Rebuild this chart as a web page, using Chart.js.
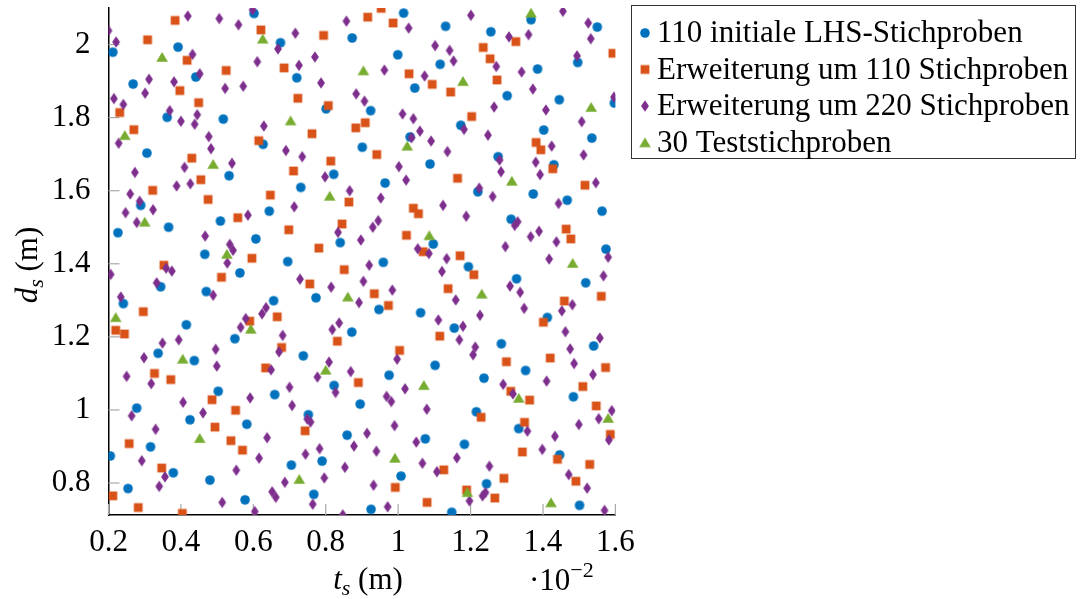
<!DOCTYPE html>
<html>
<head>
<meta charset="utf-8">
<script src="https://cdn.jsdelivr.net/npm/chart.js@4/dist/chart.umd.min.js"></script>
<style>
  html, body { margin: 0; padding: 0; background: #fff; }
  #wrap { width: 1083px; height: 599px; position: relative; }
</style>
</head>
<body>
<div id="wrap"><canvas id="c" width="1083" height="599"></canvas></div>
<script>
// Sample points (t_s in units of 1e-2 m, d_s in m)
const lhsPoints = [
  [0.602,2.085],[0.212,1.979],[0.392,1.993],[0.441,1.911],[0.268,1.892],[0.362,1.801],[0.517,1.796],
  [1.015,2.086],[0.675,2.005],[0.873,2.018],[0.999,1.972],[1.116,1.946],[0.720,1.909],[1.046,1.881],[0.801,1.824],[0.924,1.819],
  [1.131,2.050],[1.256,2.035],[1.367,2.068],[1.550,2.048],[1.496,1.951],[1.385,1.933],[1.301,1.860],[1.445,1.849],[1.597,1.840],[1.173,1.779],[1.402,1.766],
  [0.627,1.727],[0.306,1.703],[0.533,1.641],[0.289,1.560],[0.644,1.544],[0.226,1.485],[0.366,1.500],[0.509,1.517],[0.607,1.468],[0.466,1.426],
  [1.033,1.747],[0.901,1.719],[1.088,1.673],[0.822,1.645],[0.964,1.621],[0.731,1.609],[0.840,1.458],[1.097,1.454],
  [1.535,1.744],[1.276,1.693],[1.430,1.671],[1.220,1.597],[1.373,1.591],[1.467,1.574],[1.563,1.544],[1.312,1.522],[1.574,1.440],
  [0.563,1.375],[0.344,1.337],[0.470,1.324],[0.241,1.291],[0.656,1.299],[0.415,1.233],[0.549,1.195],[0.337,1.155],[0.437,1.135],
  [0.695,1.406],[0.959,1.404],[0.773,1.307],[0.947,1.275],[1.062,1.266],[0.872,1.213],[0.738,1.148],[1.102,1.122],[0.975,1.095],[0.823,1.067],
  [1.194,1.392],[1.327,1.359],[1.518,1.348],[1.412,1.253],[1.155,1.224],[1.285,1.181],[1.540,1.175],[1.352,1.108],[1.237,1.087],
  [0.503,1.051],[0.659,1.042],[0.278,1.005],[0.425,0.973],[0.582,0.961],[0.316,0.899],[0.205,0.874],[0.379,0.828],[0.480,0.808],[0.254,0.785],[0.577,0.754],
  [0.895,1.016],[0.752,0.987],[0.859,0.931],[1.075,0.921],[0.790,0.860],[0.705,0.849],[1.008,0.819],[0.767,0.769],[0.925,0.728],
  [1.484,1.036],[1.216,0.995],[1.333,0.949],[1.183,0.906],[1.446,0.877],[1.244,0.798],[1.501,0.739],[1.148,0.720]
];

const ext110Points = [
  [0.384,2.066],[0.621,2.040],[0.308,2.013],[0.417,1.957],[0.525,1.929],[0.397,1.874],[0.449,1.841],[0.231,1.814],[0.270,1.767],
  [0.953,2.099],[0.916,2.075],[0.986,2.059],[0.794,2.025],[0.685,1.936],[1.030,1.920],[1.094,1.891],[0.723,1.853],[0.807,1.833],[0.909,1.786],[0.883,1.772],
  [1.235,1.992],[1.325,2.008],[1.254,1.961],[1.593,1.976],[1.273,1.903],[1.145,1.870],[1.203,1.803],
  [0.615,1.737],[0.430,1.689],[0.455,1.630],[0.322,1.601],[0.647,1.588],[0.475,1.576],[0.557,1.526],[0.596,1.415],
  [0.762,1.756],[0.941,1.699],[0.814,1.681],[0.711,1.654],[0.864,1.569],[1.042,1.552],[1.056,1.537],[0.845,1.509],[0.698,1.493],[1.023,1.478],[0.781,1.443],[1.069,1.433],
  [1.381,1.732],[1.394,1.712],[1.427,1.660],[1.164,1.634],[1.516,1.615],[1.464,1.495],[1.477,1.468],[1.171,1.422],
  [0.353,1.396],[0.512,1.363],[0.296,1.269],[0.220,1.218],[0.244,1.208],[0.590,1.243],[0.634,1.115],[0.327,1.100],[0.372,1.083],
  [0.851,1.384],[0.756,1.345],[0.934,1.318],[0.973,1.286],[0.666,1.255],[0.832,1.188],[1.115,1.202],[0.678,1.171],[1.004,1.163],[0.890,1.075],
  [1.209,1.370],[1.138,1.332],[1.561,1.311],[1.459,1.298],[1.401,1.240],[1.299,1.132],[1.420,1.142],[1.573,1.116],[1.510,1.064],
  [0.486,1.028],[0.551,0.999],[0.494,0.953],[0.538,0.916],[0.570,0.890],[0.257,0.908],[0.347,0.841],[0.212,0.765],[0.282,0.733],[0.404,0.717],
  [0.743,0.943],[1.126,0.836],[0.992,0.788],[1.080,0.747],
  [1.311,1.051],[1.363,1.027],[1.547,1.011],[1.229,0.980],[1.349,0.966],[1.586,0.933],[1.343,0.885],[1.440,0.865],[1.529,0.851],[1.292,0.813],[1.491,0.805],[1.189,0.781],[1.267,0.759]
];

const ext220Points = [
  [0.419,2.078],[0.506,2.071],[0.559,2.054],[0.598,2.095],[0.200,2.038],[0.221,2.007],[0.432,1.973],[0.611,1.953],[0.452,1.920],[0.312,1.905],[0.381,1.898],[0.301,1.867],[0.522,1.880],[0.572,1.886],[0.215,1.852],[0.241,1.836],[0.369,1.819],[0.445,1.808],[0.400,1.790],[0.438,1.782],[0.629,1.777],
  [0.857,2.064],[0.716,2.031],[1.029,2.045],[0.668,1.988],[0.770,1.966],[0.726,1.943],[1.102,1.997],[0.962,1.930],[1.073,1.914],[0.787,1.895],[0.884,1.865],[0.907,1.845],[1.012,1.810],[1.042,1.797],[1.060,1.763],
  [1.201,2.080],[1.455,2.091],[1.525,2.059],[1.306,2.021],[1.360,2.027],[1.532,2.016],[1.142,1.984],[1.153,1.955],[1.271,1.940],[1.494,1.969],[1.341,1.925],[1.372,1.878],[1.265,1.829],[1.408,1.821],[1.596,1.856],[1.507,1.789],[1.182,1.768],
  [0.477,1.748],[0.228,1.730],[0.483,1.715],[0.541,1.675],[0.410,1.664],[0.273,1.650],[0.388,1.613],[0.426,1.619],[0.260,1.591],[0.286,1.571],[0.323,1.548],[0.247,1.540],[0.278,1.513],[0.585,1.533],[0.467,1.476],[0.535,1.453],[0.544,1.437],
  [1.037,1.745],[1.091,1.736],[0.690,1.710],[0.735,1.693],[1.002,1.666],[0.798,1.638],[1.022,1.629],[0.866,1.600],[0.952,1.580],[0.713,1.556],[1.124,1.560],[0.945,1.518],[0.930,1.500],[0.834,1.486],[0.897,1.465],[1.054,1.441],[1.085,1.428],
  [1.248,1.752],[1.136,1.707],[1.424,1.722],[1.280,1.684],[1.380,1.678],[1.512,1.698],[1.284,1.652],[1.392,1.644],[1.546,1.622],[1.224,1.607],[1.261,1.584],[1.443,1.565],[1.188,1.530],[1.330,1.515],[1.322,1.505],[1.389,1.489],[1.366,1.474],[1.437,1.460],[1.296,1.447],[1.134,1.414],[1.417,1.413],[1.580,1.418],
  [0.528,1.402],[0.206,1.371],[0.359,1.388],[0.375,1.380],[0.333,1.348],[0.489,1.314],[0.234,1.309],[0.635,1.280],[0.624,1.263],[0.579,1.250],[0.565,1.226],[0.349,1.183],[0.394,1.192],[0.496,1.166],[0.298,1.143],[0.499,1.120],[0.250,1.092],[0.318,1.072],[0.649,1.110],
  [0.920,1.396],[1.121,1.379],[0.729,1.358],[0.815,1.336],[0.904,1.352],[0.984,1.328],[0.892,1.294],[1.111,1.246],[0.837,1.238],[0.818,1.220],[0.681,1.204],[0.671,1.159],[0.997,1.139],[0.809,1.131],[0.869,1.105],[0.777,1.090],[0.700,1.062],[1.019,1.058],
  [1.567,1.367],[1.309,1.339],[1.337,1.322],[1.159,1.301],[1.481,1.288],[1.452,1.271],[1.348,1.278],[1.226,1.259],[1.179,1.229],[1.462,1.214],[1.557,1.197],[1.169,1.192],[1.475,1.167],[1.213,1.172],[1.207,1.151],[1.486,1.127],[1.538,1.097],[1.410,1.079],[1.290,1.070],
  [0.406,1.021],[0.591,1.033],[0.264,0.984],[0.461,0.992],[0.330,0.947],[0.638,0.924],[0.292,0.861],[0.616,0.868],[0.553,0.835],[0.356,0.817],[0.340,0.791],[0.514,0.747],[0.652,0.776],[0.662,0.761],[0.604,0.722],
  [0.827,1.048],[0.968,1.037],[0.981,1.023],[0.707,1.012],[1.079,1.002],[0.749,0.975],[0.758,0.967],[0.990,0.957],[0.914,0.936],[1.050,0.912],[0.878,0.901],[0.783,0.894],[0.940,0.887],[0.744,0.879],[1.067,0.854],[0.853,0.843],[1.107,0.831],[0.796,0.814],[0.687,0.802],[0.932,0.794],[0.764,0.742],[0.971,0.735],[0.847,0.713],
  [1.317,1.044],[1.590,0.998],[1.554,0.976],[1.499,0.960],[1.357,0.942],[1.433,0.928],[1.582,0.918],[1.398,0.892],[1.162,0.869],[1.252,0.846],[1.471,0.823],[1.522,0.786],[1.241,0.774],[1.233,0.765],[1.197,0.751],[1.570,0.725]
];

const testPoints = [
  [0.626,2.016],[0.348,1.966],[0.904,1.929],[0.703,1.792],[1.367,2.087],[1.179,1.900],[1.533,1.829],
  [0.245,1.752],[0.489,1.673],[0.300,1.515],[0.527,1.427],[1.025,1.723],[0.811,1.586],[1.086,1.478],[1.314,1.627],
  [0.220,1.254],[0.593,1.222],[0.405,1.140],[0.861,1.310],[0.800,1.110],[1.071,1.068],[1.482,1.402],[1.231,1.318],
  [0.452,0.923],[0.991,0.869],[0.727,0.811],[1.333,1.033],[1.580,0.978],[1.191,0.775],[1.422,0.747]
];

const seriesLabels = [
  '110 initiale LHS-Stichproben',
  'Erweiterung um 110 Stichproben',
  'Erweiterung um 220 Stichproben',
  '30 Teststichproben'
];
const seriesColors = ['#0072BD', '#D95319', '#7E2F8E', '#77AC30'];
const seriesMarkers = ['circle', 'square', 'diamond', 'triangle'];

const xTickValues = [0.2, 0.4, 0.6, 0.8, 1.0, 1.2, 1.4, 1.6];
const xTickLabels = ['0.2', '0.4', '0.6', '0.8', '1', '1.2', '1.4', '1.6'];
const yTickValues = [0.8, 1.0, 1.2, 1.4, 1.6, 1.8, 2.0];
const yTickLabels = ['0.8', '1', '1.2', '1.4', '1.6', '1.8', '2'];

const FONT = '"Liberation Serif", "DejaVu Serif", serif';
const FS = 31;

// Small bitmap markers used as point styles
function makeMarker(kind, color) {
  const c = document.createElement('canvas');
  c.width = 14; c.height = 14;
  const g = c.getContext('2d');
  const m = 7;
  g.fillStyle = color;
  g.beginPath();
  if (kind === 'circle') {
    g.arc(m, m, 4.8, 0, Math.PI * 2);
  } else if (kind === 'square') {
    g.rect(m - 4.4, m - 4.4, 8.8, 8.8);
  } else if (kind === 'diamond') {
    g.moveTo(m, m - 5.8); g.lineTo(m + 3.9, m); g.lineTo(m, m + 5.8); g.lineTo(m - 3.9, m); g.closePath();
  } else {
    g.moveTo(m, m - 5); g.lineTo(m + 5.8, m + 4.8); g.lineTo(m - 5.8, m + 4.8); g.closePath();
  }
  g.fill();
  return c;
}
const markers = seriesMarkers.map((k, i) => makeMarker(k, seriesColors[i]));

const seriesPoints = [lhsPoints, ext110Points, ext220Points, testPoints];
const datasets = seriesPoints.map((pts, i) => ({
  label: seriesLabels[i],
  data: pts.map(([x, y]) => ({ x, y })),
  pointStyle: markers[i],
  pointRadius: 5,
  showLine: false,
  backgroundColor: seriesColors[i],
  borderColor: seriesColors[i],
  order: 4 - i
}));

// Draw a run of text pieces with different fonts / baseline shifts
function runsWidth(ctx, runs) {
  return runs.reduce((w, r) => { ctx.font = r.font; return w + ctx.measureText(r.text).width; }, 0);
}
function drawRuns(ctx, runs, x, y) {
  let cx = x;
  runs.forEach(r => {
    ctx.font = r.font;
    ctx.fillText(r.text, cx, y + (r.dy || 0));
    cx += ctx.measureText(r.text).width;
  });
}

const decorations = {
  id: 'decorations',
  beforeDatasetsDraw(chart) {
    const { ctx, chartArea: a, scales: { x, y } } = chart;
    ctx.save();
    ctx.strokeStyle = '#a8a8a8';
    ctx.lineWidth = 1.2;
    x.ticks.forEach(t => {
      const p = x.getPixelForValue(t.value);
      ctx.beginPath(); ctx.moveTo(p, a.bottom); ctx.lineTo(p, a.bottom - 11); ctx.stroke();
    });
    y.ticks.forEach(t => {
      const p = y.getPixelForValue(t.value);
      ctx.beginPath(); ctx.moveTo(a.left, p); ctx.lineTo(a.left + 11, p); ctx.stroke();
    });
    ctx.restore();
  },
  afterDraw(chart) {
    const { ctx } = chart;
    ctx.save();
    ctx.fillStyle = '#000';
    ctx.textBaseline = 'alphabetic';
    ctx.textAlign = 'left';

    const it = 'italic ' + FS + 'px ' + FONT;
    const up = FS + 'px ' + FONT;
    const sub = 'italic ' + Math.round(FS * 0.72) + 'px ' + FONT;
    const small = Math.round(FS * 0.72) + 'px ' + FONT;

    // x-axis title
    const xRuns = [{ text: 't', font: it }, { text: 's', font: sub, dy: 6 }, { text: ' (m)', font: up }];
    drawRuns(ctx, xRuns, 368 - runsWidth(ctx, xRuns) / 2, 589);

    // exponent marker of the x axis
    drawRuns(ctx, [{ text: '\u00b710', font: up }, { text: '\u22122', font: small, dy: -13 }], 529, 590);

    // y-axis title
    const yRuns = [{ text: 'd', font: it }, { text: 's', font: sub, dy: 6 }, { text: ' (m)', font: up }];
    ctx.translate(37, 265);
    ctx.rotate(-Math.PI / 2);
    drawRuns(ctx, yRuns, -runsWidth(ctx, yRuns) / 2, 0);
    ctx.setTransform(1, 0, 0, 1, 0, 0);

    // legend
    ctx.strokeStyle = '#333';
    ctx.lineWidth = 1;
    ctx.fillStyle = '#fff';
    ctx.fillRect(631.5, 5.5, 444, 153);
    ctx.strokeRect(631.5, 5.5, 444, 153);
    ctx.fillStyle = '#000';
    ctx.font = up;
    ctx.textBaseline = 'middle';
    const rowY = [33, 69.5, 106, 142.5];
    seriesLabels.forEach((label, i) => {
      ctx.drawImage(markers[i], 645 - 7, rowY[i] - 7);
      ctx.fillText(label, 657, rowY[i] + 1);
    });
    ctx.restore();
  }
};

new Chart(document.getElementById('c'), {
  type: 'scatter',
  data: { datasets },
  options: {
    responsive: false,
    animation: false,
    devicePixelRatio: 1,
    layout: { padding: { left: 8.5, right: 467.6, top: 8, bottom: 34 } },
    plugins: { legend: { display: false }, tooltip: { enabled: false } },
    scales: {
      x: {
        type: 'linear', min: 0.2, max: 1.6,
        afterBuildTicks: s => { s.ticks = xTickValues.map(v => ({ value: v })); },
        afterFit: s => { s.height = 50; s.paddingLeft = 0; s.paddingRight = 0; },
        grid: { display: false },
        border: { display: true, color: '#000', width: 1.5 },
        ticks: {
          padding: 1, color: '#000', autoSkip: false, maxRotation: 0,
          font: { family: FONT, size: FS },
          callback: (v, i) => xTickLabels[i]
        }
      },
      y: {
        type: 'linear', min: 0.7125, max: 2.1,
        afterBuildTicks: s => { s.ticks = yTickValues.map(v => ({ value: v })); },
        afterFit: s => { s.width = 100; s.paddingTop = 0; s.paddingBottom = 0; },
        grid: { display: false },
        border: { display: true, color: '#000', width: 1.5 },
        ticks: {
          padding: 10, color: '#000', autoSkip: false,
          font: { family: FONT, size: FS },
          callback: (v, i) => yTickLabels[i]
        }
      }
    }
  },
  plugins: [decorations]
});
</script>
</body>
</html>
